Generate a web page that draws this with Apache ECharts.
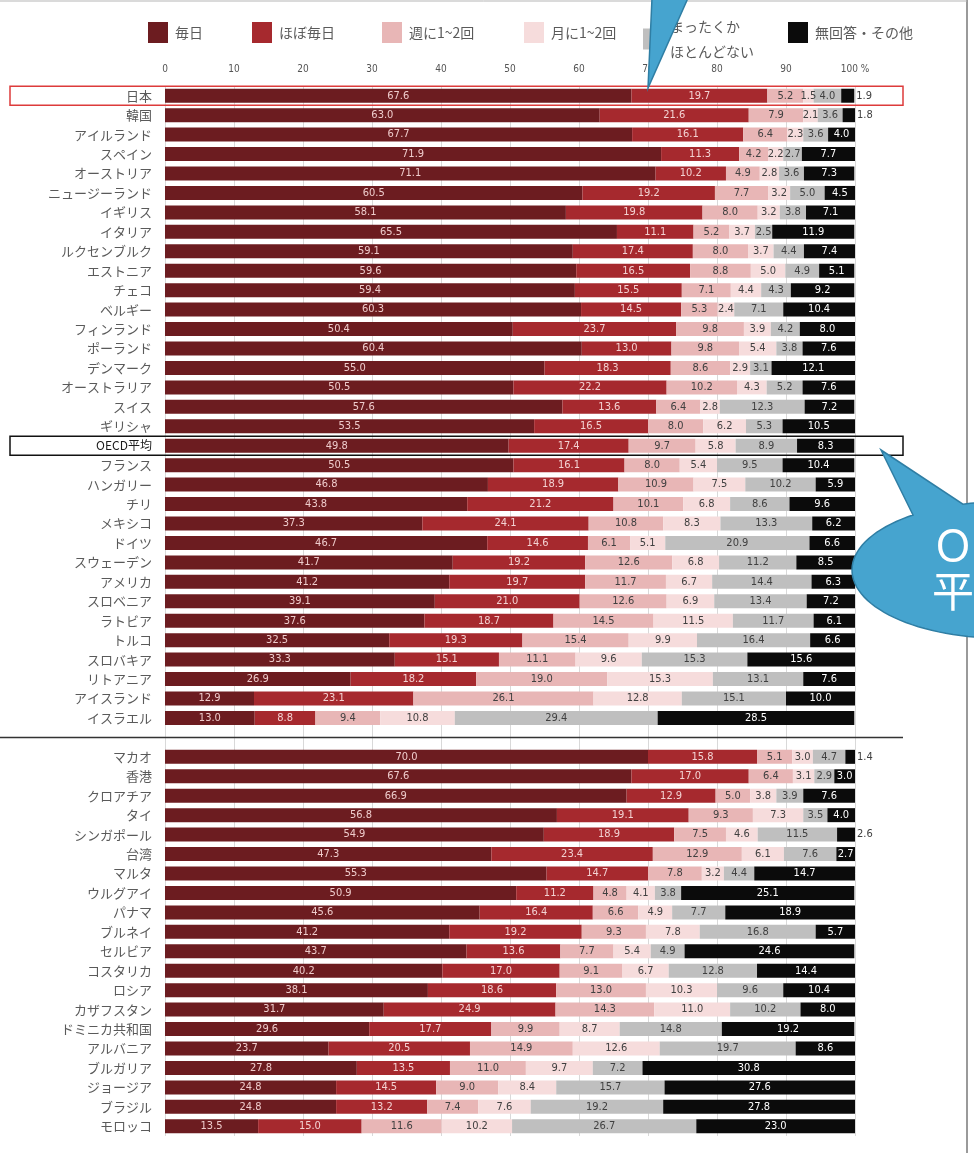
<!DOCTYPE html>
<html>
<head>
<meta charset="utf-8">
<script src="https://cdn.jsdelivr.net/npm/echarts@6/dist/echarts.min.js"></script>
<style>
  html, body { margin: 0; padding: 0; background: #fff; }
  #chart { width: 974px; height: 1153px; }
</style>
</head>
<body>
<div id="chart"></div>
<script>
// Countries / economies, top to bottom. The empty slot separates OECD members from partners.
const categories = [
  '日本', '韓国', 'アイルランド', 'スペイン', 'オーストリア', 'ニュージーランド', 'イギリス', 'イタリア',
  'ルクセンブルク', 'エストニア', 'チェコ', 'ベルギー', 'フィンランド', 'ポーランド', 'デンマーク',
  'オーストラリア', 'スイス', 'ギリシャ', 'OECD平均', 'フランス', 'ハンガリー', 'チリ', 'メキシコ',
  'ドイツ', 'スウェーデン', 'アメリカ', 'スロベニア', 'ラトビア', 'トルコ', 'スロバキア', 'リトアニア',
  'アイスランド', 'イスラエル', '',
  'マカオ', '香港', 'クロアチア', 'タイ', 'シンガポール', '台湾', 'マルタ', 'ウルグアイ', 'パナマ',
  'ブルネイ', 'セルビア', 'コスタリカ', 'ロシア', 'カザフスタン', 'ドミニカ共和国', 'アルバニア',
  'ブルガリア', 'ジョージア', 'ブラジル', 'モロッコ'
];

const seriesNames = ['毎日', 'ほぼ毎日', '週に1~2回', '月に1~2回', 'まったくかほとんどない', '無回答・その他'];

// Shares in %, one entry per category (null for the separator slot)
const everyDay = [67.6, 63.0, 67.7, 71.9, 71.1, 60.5, 58.1, 65.5, 59.1, 59.6, 59.4, 60.3, 50.4, 60.4, 55.0, 50.5, 57.6, 53.5, 49.8, 50.5, 46.8, 43.8, 37.3, 46.7, 41.7, 41.2, 39.1, 37.6, 32.5, 33.3, 26.9, 12.9, 13.0, null,
  70.0, 67.6, 66.9, 56.8, 54.9, 47.3, 55.3, 50.9, 45.6, 41.2, 43.7, 40.2, 38.1, 31.7, 29.6, 23.7, 27.8, 24.8, 24.8, 13.5];
const almostEveryDay = [19.7, 21.6, 16.1, 11.3, 10.2, 19.2, 19.8, 11.1, 17.4, 16.5, 15.5, 14.5, 23.7, 13.0, 18.3, 22.2, 13.6, 16.5, 17.4, 16.1, 18.9, 21.2, 24.1, 14.6, 19.2, 19.7, 21.0, 18.7, 19.3, 15.1, 18.2, 23.1, 8.8, null,
  15.8, 17.0, 12.9, 19.1, 18.9, 23.4, 14.7, 11.2, 16.4, 19.2, 13.6, 17.0, 18.6, 24.9, 17.7, 20.5, 13.5, 14.5, 13.2, 15.0];
const weekly = [5.2, 7.9, 6.4, 4.2, 4.9, 7.7, 8.0, 5.2, 8.0, 8.8, 7.1, 5.3, 9.8, 9.8, 8.6, 10.2, 6.4, 8.0, 9.7, 8.0, 10.9, 10.1, 10.8, 6.1, 12.6, 11.7, 12.6, 14.5, 15.4, 11.1, 19.0, 26.1, 9.4, null,
  5.1, 6.4, 5.0, 9.3, 7.5, 12.9, 7.8, 4.8, 6.6, 9.3, 7.7, 9.1, 13.0, 14.3, 9.9, 14.9, 11.0, 9.0, 7.4, 11.6];
const monthly = [1.5, 2.1, 2.3, 2.2, 2.8, 3.2, 3.2, 3.7, 3.7, 5.0, 4.4, 2.4, 3.9, 5.4, 2.9, 4.3, 2.8, 6.2, 5.8, 5.4, 7.5, 6.8, 8.3, 5.1, 6.8, 6.7, 6.9, 11.5, 9.9, 9.6, 15.3, 12.8, 10.8, null,
  3.0, 3.1, 3.8, 7.3, 4.6, 6.1, 3.2, 4.1, 4.9, 7.8, 5.4, 6.7, 10.3, 11.0, 8.7, 12.6, 9.7, 8.4, 7.6, 10.2];
const rarelyOrNever = [4.0, 3.6, 3.6, 2.7, 3.6, 5.0, 3.8, 2.5, 4.4, 4.9, 4.3, 7.1, 4.2, 3.8, 3.1, 5.2, 12.3, 5.3, 8.9, 9.5, 10.2, 8.6, 13.3, 20.9, 11.2, 14.4, 13.4, 11.7, 16.4, 15.3, 13.1, 15.1, 29.4, null,
  4.7, 2.9, 3.9, 3.5, 11.5, 7.6, 4.4, 3.8, 7.7, 16.8, 4.9, 12.8, 9.6, 10.2, 14.8, 19.7, 7.2, 15.7, 19.2, 26.7];
const noAnswer = [1.9, 1.8, 4.0, 7.7, 7.3, 4.5, 7.1, 11.9, 7.4, 5.1, 9.2, 10.4, 8.0, 7.6, 12.1, 7.6, 7.2, 10.5, 8.3, 10.4, 5.9, 9.6, 6.2, 6.6, 8.5, 6.3, 7.2, 6.1, 6.6, 15.6, 7.6, 10.0, 28.5, null,
  1.4, 3.0, 7.6, 4.0, 2.6, 2.7, 14.7, 25.1, 18.9, 5.7, 24.6, 14.4, 10.4, 8.0, 19.2, 8.6, 30.8, 27.6, 27.8, 23.0];

const xTicks = [0, 10, 20, 30, 40, 50, 60, 70, 80, 90, 100];

const colors = ['#6c1c20', '#a6292e', '#e8b6b6', '#f6dcdc', '#bfbfbf', '#0b0b0b'];
const labelColors = ['#efcccc', '#f3d2d2', '#404040', '#404040', '#404040', '#ffffff'];
const seriesValues = [everyDay, almostEveryDay, weekly, monthly, rarelyOrNever, noAnswer];

const narrow = '"Liberation Sans Narrow", "DejaVu Sans Condensed", "Arial Narrow", sans-serif';
const jp = '"Noto Sans CJK JP", "Noto Sans", sans-serif';

const chart = echarts.init(document.getElementById('chart'), null, { renderer: 'canvas' });

const series = seriesValues.map((vals, si) => ({
  name: seriesNames[si],
  type: 'bar',
  stack: 'total',
  barWidth: 14,
  itemStyle: { color: colors[si] },
  label: {
    show: true,
    position: 'inside',
    color: labelColors[si],
    fontFamily: narrow,
    fontSize: 11,
    formatter: p => (p.value == null ? '' : Number(p.value).toFixed(1))
  },
  data: vals.map(v => {
    // very thin last segments carry their value outside the bar end
    if (si === 5 && v != null && v <= 2.6) {
      return { value: v, label: { position: 'right', distance: 2, color: '#404040' } };
    }
    return v;
  })
}));

// one legend block per item so each sits at its own spot along the top
const legendLefts = [148, 252, 382, 524, 643, 788];
const legends = seriesNames.map((n, i) => ({
  data: [n],
  left: legendLefts[i],
  top: i === 4 ? 14 : 20,
  padding: 0,
  icon: 'rect',
  itemWidth: 20,
  itemHeight: 21,
  itemGap: 0,
  selectedMode: false,
  textStyle: { color: '#5a5a5a', fontSize: 14, fontFamily: jp, padding: [0, 0, 0, 2], lineHeight: 25 },
  formatter: name => (name === 'まったくかほとんどない' ? 'まったくか\nほとんどない' : name)
}));

chart.setOption({
  backgroundColor: '#ffffff',
  animation: false,
  legend: legends,
  grid: { left: 165, right: 119, top: 86, bottom: 17, containLabel: false },
  xAxis: {
    type: 'value',
    position: 'top',
    min: 0,
    max: 100,
    interval: 10,
    axisLine: { show: false },
    axisTick: { show: false },
    axisLabel: {
      margin: 12,
      color: '#555',
      fontSize: 10,
      fontFamily: narrow,
      formatter: v => (xTicks.includes(v) ? (v === 100 ? '100 %' : String(v)) : '')
    },
    splitLine: { show: true, lineStyle: { color: '#d9d9d9', width: 1 } }
  },
  yAxis: {
    type: 'category',
    inverse: true,
    data: categories,
    axisLine: { show: false },
    axisTick: { show: false },
    axisLabel: {
      interval: 0,
      margin: 13,
      color: '#5a5a5a',
      fontSize: 13,
      fontFamily: jp,
      formatter: v => (v === 'OECD平均' ? '{avg|' + v + '}' : v),
      rich: { avg: { color: '#1a1a1a', fontSize: 12, fontFamily: jp } }
    }
  },
  series: series
});

// Annotation frames, separator, page edge and callouts
const rowY = idx => chart.convertToPixel({ yAxisIndex: 0 }, idx);
const yJapan = rowY(0);
const yOecd = rowY(18);
const ySep = rowY(33);

// speech bubble: ellipse body plus a pointer toward the OECD row
const cx = 1000, cy = 570, rx = 148, ry = 68;
const bubblePts = [[881, 450]];
const a0 = -104.5, a1 = 234;
for (let a = a0; a <= a1; a += 3) {
  const t = a * Math.PI / 180;
  bubblePts.push([cx + rx * Math.cos(t), cy + ry * Math.sin(t)]);
}
{
  const t = a1 * Math.PI / 180;
  bubblePts.push([cx + rx * Math.cos(t), cy + ry * Math.sin(t)]);
}

chart.setOption({
  graphic: [
    { type: 'line', z: 50, shape: { x1: 967, y1: 0, x2: 967, y2: 1153 }, style: { stroke: '#9a9a9a', lineWidth: 2 } },
    { type: 'line', z: 50, shape: { x1: 0, y1: 1, x2: 967, y2: 1 }, style: { stroke: '#b5b5b5', lineWidth: 1 } },
    { type: 'rect', z: 50, shape: { x: 10, y: yJapan - 9.5, width: 893, height: 19 }, style: { fill: null, stroke: '#dd3b3b', lineWidth: 1.5 } },
    { type: 'rect', z: 50, shape: { x: 10, y: yOecd - 9.5, width: 893, height: 19 }, style: { fill: null, stroke: '#111', lineWidth: 1.5 } },
    { type: 'line', z: 50, shape: { x1: 0, y1: ySep, x2: 903, y2: ySep }, style: { stroke: '#333', lineWidth: 1.5 } },
    { type: 'polygon', z: 60, shape: { points: [[652, -2], [688, -2], [648, 88]] }, style: { fill: '#46a4cf', stroke: '#2f7ea4', lineWidth: 1.5 } },
    { type: 'polygon', z: 60, shape: { points: bubblePts }, style: { fill: '#46a4cf', stroke: '#2f7ea4', lineWidth: 1.5 } },
    { type: 'text', z: 61, left: 932, top: 522, style: { text: 'ＯＥＣＤ\n平均', fill: '#ffffff', fontSize: 42, lineHeight: 46, fontFamily: jp } }
  ]
});
</script>
</body>
</html>
